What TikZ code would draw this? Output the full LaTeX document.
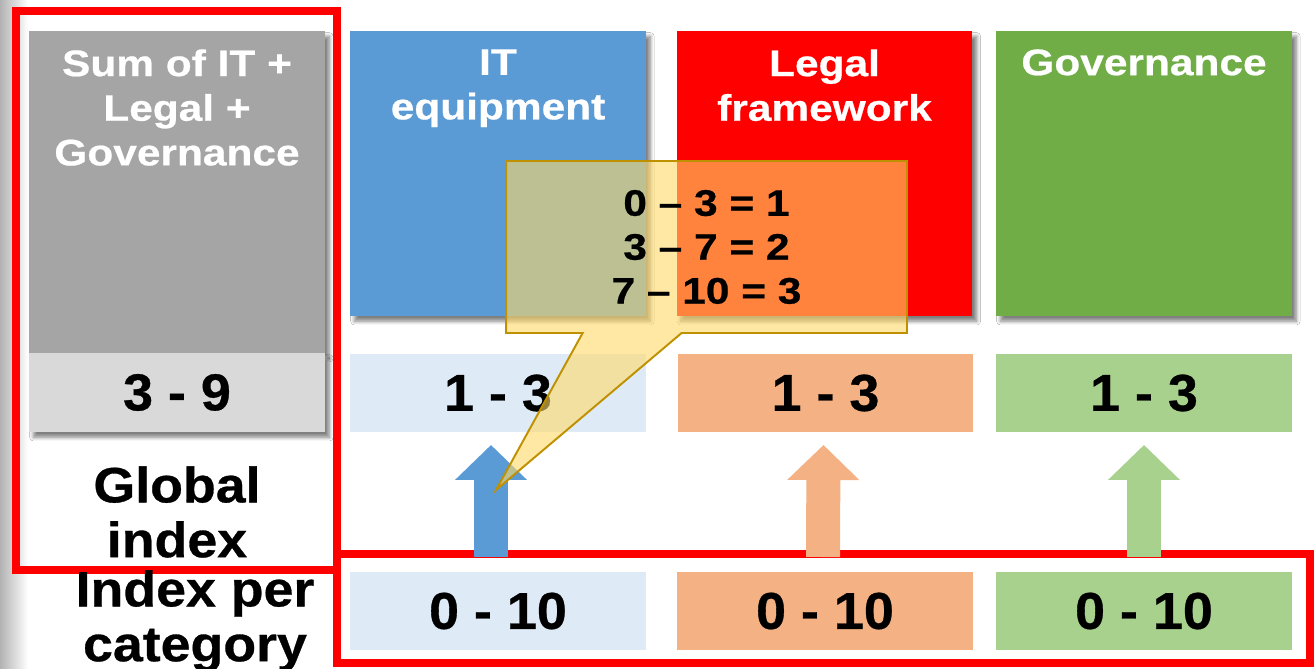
\documentclass[tikz,border=0pt]{standalone}
\usepackage{fontspec}
\setmainfont{Liberation Sans}
\newfontfamily\hdrfont{Liberation Sans}[FakeStretch=1.15, FakeBold=0.6]
\newfontfamily\numfont{Liberation Sans}[FakeStretch=1.04, FakeBold=0.6]
\newfontfamily\lblfont{Liberation Sans}[FakeStretch=1.08, FakeBold=0.6]
\usetikzlibrary{shadows.blur,shapes.callouts,arrows.meta,calc}
\definecolor{cGray}{HTML}{A5A5A5}
\definecolor{cGrayL}{HTML}{D9D9D9}
\definecolor{cBlue}{HTML}{5B9BD5}
\definecolor{cBlueL}{HTML}{DEEBF7}
\definecolor{cRed}{HTML}{FF0000}
\definecolor{cOrange}{HTML}{F4B183}
\definecolor{cGreen}{HTML}{70AD47}
\definecolor{cGreenL}{HTML}{A9D18E}
\definecolor{cCallFill}{HTML}{FFD966}
\definecolor{cCallLine}{HTML}{BF9000}
\tikzset{
  box/.style={rectangle, inner sep=0pt, outer sep=0pt, minimum width=5.92cm},
  shadowed/.style={blur shadow={shadow xshift=2.5pt, shadow yshift=-3pt, shadow blur steps=6, shadow opacity=50}},
  hdr/.style={anchor=north, inner sep=0pt, align=center, text=white, font=\hdrfont\bfseries\fontsize{21}{25.4}\selectfont},
  val/.style={font=\numfont\bfseries\fontsize{29.5}{30}\selectfont},
  lbl/.style={anchor=north, inner sep=0pt, align=center, font=\lblfont\bfseries\fontsize{28.3}{31.2}\selectfont},
  callfont/.style={font=\hdrfont\bfseries\fontsize{21}{25}\selectfont},
  redframe/.style={draw=cRed, line width=4pt},
  uparrow/.style={line width=0.68cm, -{Triangle[width=1.4cm,length=0.7cm]}}
}
\begin{document}
\begin{tikzpicture}[x=0.02cm, y=-0.02cm]
\useasboundingbox (0,0) rectangle (1316,669);
\fill[white] (0,0) rectangle (1316,669);
\shade[left color=black!30, right color=white] (0,0) rectangle (28,669);

% top boxes
\node[box, shadowed, fill=cGray, minimum height=6.44cm] (gsum) at (177,192) {};
\node[box, shadowed, fill=cGrayL, minimum height=1.58cm, val] (g39) at (177,392.5) {3 - 9};
\node[box, shadowed, fill=cBlue, minimum height=5.7cm] (it) at (498,173.5) {};
\node[box, shadowed, fill=cRed, minimum height=5.7cm] (legal) at (824.5,173.5) {};
\node[box, shadowed, fill=cGreen, minimum height=5.7cm] (gov) at (1144,173.5) {};

\node[hdr] (gsumtxt) at ($(gsum.north)+(0,18)$) {Sum of IT +\\Legal +\\Governance};
\node[hdr] (ittxt) at ($(it.north)+(0,18)$) {IT\\equipment};
\node[hdr] (legaltxt) at ($(legal.north)+(0,18)$) {Legal\\framework};
\node[hdr] (govtxt) at ($(gov.north)+(0,18)$) {Governance};

% middle row
\node[box, fill=cBlueL, minimum height=1.56cm, val] (it13) at (498,393) {1 - 3};
\node[box, fill=cOrange, minimum height=1.56cm, val] (legal13) at (825.5,393) {1 - 3};
\node[box, fill=cGreenL, minimum height=1.56cm, val] (gov13) at (1144,393) {1 - 3};

% bottom row
\node[box, fill=cBlueL, minimum height=1.56cm, val] (it10) at (498,611) {0 - 10};
\node[box, fill=cOrange, minimum height=1.56cm, val] (legal10) at (825,611) {0 - 10};
\node[box, fill=cGreenL, minimum height=1.56cm, val] (gov10) at (1144,611) {0 - 10};

% red frames
\draw[redframe] (16,11) rectangle (337,570);
\draw[redframe] (337,554) rectangle (1310,663);

% arrows
\draw[uparrow, cBlue] ($(it10.north)+(-7,-15)$) -- ($(it13.south)+(-7,13)$);
\draw[uparrow, cOrange] ($(legal10.north)+(-2,-15)$) -- ($(legal13.south)+(-2,13)$);
\draw[uparrow, cGreenL] ($(gov10.north)+(0,-15)$) -- ($(gov13.south)+(0,13)$);

% labels
\node[lbl] (glob) at (177,466) {Global\\index};
\node[lbl] (ipc) at (195,570) {Index per\\category};

% callout
\coordinate (tip) at (496,490);
\node[rectangle callout, callout absolute pointer={(tip)}, callout pointer width=1.98cm,
      fill=cCallFill, fill opacity=0.6, text opacity=1, draw=cCallLine, line width=1.1pt,
      minimum width=8.02cm, minimum height=3.44cm, inner sep=0pt, align=center, callfont]
      (call) at (706.5,247) {0 – 3 = 1\\3 – 7 = 2\\7 – 10 = 3};
\end{tikzpicture}
\end{document}
